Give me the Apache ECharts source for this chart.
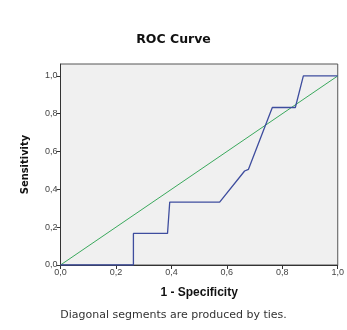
<!DOCTYPE html>
<html><head><meta charset="utf-8">
<script src="https://cdn.jsdelivr.net/npm/echarts@6/dist/echarts.min.js"></script>
<style>html,body{margin:0;padding:0;background:#fff}#c{width:347px;height:330px}</style>
</head><body><div id="c"></div>
<script>
var rocX = [0, 0.263, 0.263, 0.386, 0.394, 0.574, 0.664, 0.678, 0.764, 0.847, 0.876, 1.0];
var rocY = [0, 0, 0.167, 0.167, 0.333, 0.333, 0.497, 0.506, 0.833, 0.833, 1.0, 1.0];
var refX = [0, 1];
var refY = [0, 1];
var tickValues = [0, 0.2, 0.4, 0.6, 0.8, 1.0];

function fmt(v){ return v.toFixed(1).replace('.', ','); }

var chart = echarts.init(document.getElementById('c'), null, {renderer:'canvas'});
chart.setOption({
  animation:false,
  backgroundColor:'#fff',
  title:{text:'ROC Curve', left:'center', top:28,
    textStyle:{fontFamily:'DejaVu Sans', fontWeight:'bold', fontSize:12.5, color:'#111'}},
  graphic:[{type:'text', left:'center', top:310,
    style:{text:'Diagonal segments are produced by ties.', fontFamily:'DejaVu Sans', fontSize:11, fill:'#333'}}],
  grid:{left:60.5, right:7, top:64, bottom:65, show:true, backgroundColor:'#f0f0f0', borderColor:'#555', borderWidth:1},
  xAxis:{type:'value', min:0, max:1, interval:0.2,
    name:'1 - Specificity', nameLocation:'middle', nameGap:22,
    nameTextStyle:{fontFamily:'Liberation Sans', fontWeight:'bold', fontSize:12, color:'#111'},
    axisLine:{lineStyle:{color:'#333', width:1}},
    axisTick:{show:true, length:4, lineStyle:{color:'#333'}},
    axisLabel:{formatter:fmt, fontFamily:'Liberation Sans', fontSize:9, color:'#444', margin:3},
    splitLine:{show:false}},
  yAxis:{type:'value', min:0, max:1.063,
    name:'Sensitivity', nameLocation:'middle', nameGap:30,
    nameTextStyle:{fontFamily:"'DejaVu Sans Condensed', 'Liberation Sans', sans-serif", fontWeight:'bold', fontSize:11, color:'#111'},
    axisLine:{show:true, lineStyle:{color:'#333', width:1}},
    axisTick:{show:true, length:4, customValues:tickValues, lineStyle:{color:'#333'}},
    axisLabel:{customValues:tickValues, formatter:fmt, fontFamily:'Liberation Sans', fontSize:9, color:'#444', margin:3},
    splitLine:{show:false}},
  series:[
    {type:'line', data:refX.map(function(x,i){return [x, refY[i]];}), symbol:'none',
     lineStyle:{color:'#3aa85c', width:1}},
    {type:'line', data:rocX.map(function(x,i){return [x, rocY[i]];}), symbol:'none',
     lineStyle:{color:'#3e4d9e', width:1.3}}
  ]
});
</script></body></html>
